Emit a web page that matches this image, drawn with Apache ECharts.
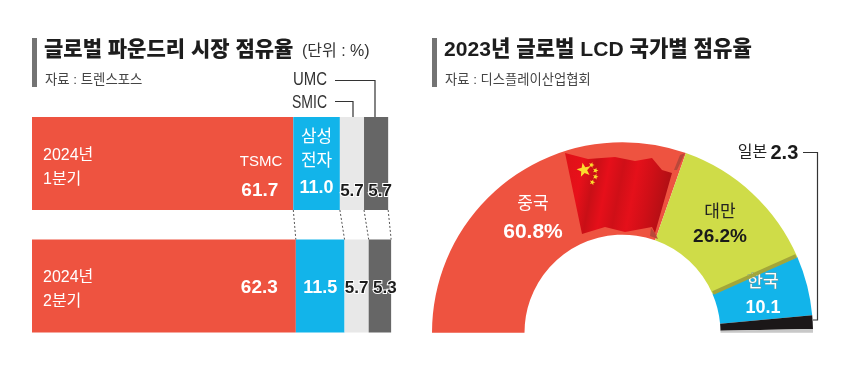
<!DOCTYPE html>
<html><head><meta charset="utf-8">
<style>html,body{margin:0;padding:0;background:#fff}#c{width:860px;height:368px}</style>
<script src="https://cdn.jsdelivr.net/npm/echarts@6/dist/echarts.min.js"></script>
</head><body><div id="c"></div>
<script>
const quarters = ['2024년\n1분기', '2024년\n2분기'];
const tsmc = [61.7, 62.3];
const samsung = [11.0, 11.5];
const smic = [5.7, 5.7];
const umc = [5.7, 5.3];
const lcdNames = ['중국', '대만', '한국', '일본', '기타'];
const lcdValues = [60.8, 26.2, 10.1, 2.3, 0.6];

const FONT = '"Liberation Sans","Noto Sans CJK KR",sans-serif';
const RED = '#ee5340', BLUE = '#12b4ea', LIGHT = '#e8e8e8', DARK = '#666666', LIME = '#cfdc48';
const BAR_H = 93;

const fmt = v => v.toFixed(1);
const boundaries = [0, 1].map(i => {
  const a = tsmc[i], b = a + samsung[i], c = b + smic[i], d = c + umc[i];
  return [a, b, c, d];
});
const connectors = [0, 1, 2, 3].map(k => [boundaries[0][k], boundaries[1][k]]);

const valueRich = {
  n: {fontFamily: FONT, fontSize: 17, color: '#fff', lineHeight: 24, align: 'center'},
  tn: {fontFamily: FONT, fontSize: 15, color: '#fff', lineHeight: 29, align: 'right'},
  v: {fontFamily: FONT, fontSize: 18, fontWeight: 700, color: '#fff', lineHeight: 30, align: 'center'},
  tv: {fontFamily: FONT, fontSize: 19, fontWeight: 700, color: '#fff', lineHeight: 30, align: 'right', padding: [0, 4, 0, 0]}
};

function darkLabel(offsetX, offsetY) {
  return {
    show: true, position: 'inside', offset: [offsetX, offsetY],
    fontFamily: FONT, fontSize: 17, fontWeight: 700, color: '#1c1c1c',
    textBorderColor: '#fff', textBorderWidth: 2, formatter: p => fmt(p.value)
  };
}

function star(cx, cy, r, rot) {
  const pts = [];
  for (let i = 0; i < 10; i++) {
    const rad = i % 2 ? r * 0.42 : r;
    const a = rot + i * Math.PI / 5 - Math.PI / 2;
    pts.push([cx + rad * Math.cos(a), cy + rad * Math.sin(a)]);
  }
  return {type: 'polygon', z: 102, shape: {points: pts}, style: {fill: '#fbdc2e'}, silent: true};
}
function txt(x, y, text, size, weight, color, extra) {
  return Object.assign({type: 'text', x, y, z: 110, silent: true,
    style: {text, fontFamily: FONT, fontSize: size, fontWeight: weight, fill: color,
      verticalAlign: 'middle', align: 'left'}}, extra || {});
}
function rule(points, color, width) {
  return {type: 'polyline', z: 105, silent: true, shape: {points},
    style: {stroke: color, lineWidth: width, fill: null}};
}

const flagGradient = {type: 'linear', x: 0, y: 0, x2: 1, y2: 0.25, colorStops: [
  {offset: 0, color: '#dd1217'}, {offset: .18, color: '#e8101a'}, {offset: .3, color: '#c90f16'},
  {offset: .42, color: '#e60f1a'}, {offset: .55, color: '#cf0f17'}, {offset: .68, color: '#e5101a'},
  {offset: .82, color: '#d00f17'}, {offset: 1, color: '#b00f14'}]};

const graphic = [
  {type: 'rect', z: 105, silent: true, shape: {x: 32, y: 38, width: 5, height: 49}, style: {fill: '#737373'}},
  {type: 'rect', z: 105, silent: true, shape: {x: 432, y: 38, width: 5, height: 49}, style: {fill: '#737373'}},
  txt(44, 50, '글로벌 파운드리 시장 점유율', 21, 900, '#1d1d1d'),
  txt(302, 52, '(단위 : %)', 16, 400, '#333'),
  txt(45, 80, '자료 : 트렌스포스', 13.4, 400, '#444'),
  txt(444, 50, '2023년 글로벌 LCD 국가별 점유율', 21.1, 900, '#1d1d1d'),
  txt(445, 80, '자료 : 디스플레이산업협회', 13.3, 400, '#444'),
  txt(293, 80, 'UMC', 18, 400, '#333', {scaleX: 0.83}),
  txt(292, 103, 'SMIC', 18, 400, '#333', {scaleX: 0.78}),
  rule([[335, 80.5], [375, 80.5], [375, 117]], '#333', 1.2),
  rule([[335, 101.5], [353, 101.5], [353, 117]], '#333', 1.2),
  rule([[803, 152.5], [817.5, 152.5], [817.5, 320], [813, 320]], '#333', 1.2),
  {type: 'polygon', z: 100, silent: true,
    shape: {points: [[565,153],[588,159],[615,157],[635,161],[652,158],[662,170],[672,173],[655,233],[652,227],[625,232],[605,227],[582,234]]},
    style: {fill: flagGradient}},
  {type: 'polygon', z: 99, silent: true, shape: {points: [[685,153],[680,155],[674,170],[677,170]]},
    style: {fill: '#b9483a'}},
  {type: 'polygon', z: 99, silent: true, shape: {points: [[655,233],[651,228],[650,236],[658,239]]},
    style: {fill: '#b9483a'}},
  {type: 'polyline', z: 1, silent: true, shape: {points: [[796,256],[713,293]]},
    style: {stroke: '#a2a63a', lineWidth: 4, fill: null}},
  star(584, 170, 7.5, -0.2), star(591.5, 165, 3, 0.3), star(595.5, 170.5, 3, 0.3),
  star(595.5, 176.7, 3, 0.3), star(592.3, 182.3, 3, 0.3)
];

const pieLabelPos = [[533, 218], [720, 224.5], [763, 296], [768, 153], [0, 0]];

const option = {
  animation: false,
  backgroundColor: '#fff',
  graphic: {elements: graphic},
  grid: {left: 32, top: 102.25, width: 423.5, height: 245, containLabel: false},
  xAxis: {type: 'value', min: 0, max: 100, show: false},
  yAxis: {
    type: 'category', data: quarters, inverse: true, z: 10,
    axisLine: {show: false}, axisTick: {show: false}, splitLine: {show: false},
    axisLabel: {inside: true, margin: 11, align: 'left',
      formatter: v => '{s| }\n' + v.split('\n').map(t => `{a|${t}}`).join('\n'),
      rich: {
        s: {fontSize: 4, lineHeight: 8},
        a: {color: '#fff', fontFamily: FONT, fontSize: 16, lineHeight: 24}
      }}
  },
  series: [
    {type: 'bar', stack: 's', silent: true, barWidth: BAR_H, itemStyle: {color: RED},
      data: tsmc.map((v, i) => ({value: v, label: {
        show: true, position: 'insideRight', distance: i === 0 ? 11 : 14, offset: [0, i === 0 ? 13 : 2],
        rich: valueRich,
        formatter: i === 0 ? `{tn|TSMC}\n{tv|${fmt(v)}}` : `{tv|${fmt(v)}}`
      }}))},
    {type: 'bar', stack: 's', silent: true, barWidth: BAR_H, itemStyle: {color: BLUE},
      data: samsung.map((v, i) => ({value: v, label: {
        show: true, position: 'inside', offset: [0, i === 0 ? 1 : 2],
        rich: valueRich,
        formatter: i === 0 ? `{n|삼성}\n{n|전자}\n{v|${fmt(v)}}` : `{v|${fmt(v)}}`
      }}))},
    {type: 'bar', stack: 's', silent: true, barWidth: BAR_H, itemStyle: {color: LIGHT},
      data: smic.map((v, i) => ({value: v, label: darkLabel(0, i === 0 ? 27.5 : 2)}))},
    {type: 'bar', stack: 's', silent: true, barWidth: BAR_H, itemStyle: {color: DARK},
      data: umc.map((v, i) => ({value: v, label: darkLabel(i === 0 ? 4 : 5, i === 0 ? 27.5 : 2)}))},
    {type: 'custom', silent: true, z: 5, data: connectors, encode: {x: [0, 1]},
      renderItem: (params, api) => {
        const a = api.coord([api.value(0), 0]);
        const b = api.coord([api.value(1), 1]);
        return {type: 'line',
          shape: {x1: a[0], y1: a[1] + BAR_H / 2, x2: b[0], y2: b[1] - BAR_H / 2},
          style: {stroke: '#555', lineWidth: 1, lineDash: [2, 2], fill: null}};
      }},
    {type: 'pie', silent: true, center: [622.5, 332.7], radius: [98, 190.5],
      startAngle: 180, endAngle: 0, clockwise: true, z: 0,
      labelLine: {show: false},
      labelLayout: p => {
        const pos = pieLabelPos[p.dataIndex];
        return {x: pos[0], y: pos[1], align: 'center', verticalAlign: 'middle'};
      },
      label: {
        position: 'inside', fontFamily: FONT,
        rich: {
          w: {fontFamily: FONT, fontSize: 17, color: '#fff', lineHeight: 28, align: 'center'},
          W: {fontFamily: FONT, fontSize: 21, fontWeight: 700, color: '#fff', lineHeight: 28, align: 'center'},
          k: {fontFamily: FONT, fontSize: 17, color: '#fff', lineHeight: 24, align: 'center', textBorderColor: '#6f9ea0', textBorderWidth: 1},
          K: {fontFamily: FONT, fontSize: 18, fontWeight: 700, color: '#fff', lineHeight: 28, align: 'center'},
          b: {fontFamily: FONT, fontSize: 17, color: '#222', lineHeight: 25, align: 'center'},
          B: {fontFamily: FONT, fontSize: 19, fontWeight: 700, color: '#1a1a1a', lineHeight: 25, align: 'center'},
          j: {fontFamily: FONT, fontSize: 16, color: '#222'},
          J: {fontFamily: FONT, fontSize: 20, fontWeight: 700, color: '#1a1a1a'}
        }
      },
      data: lcdNames.map((name, i) => {
        const v = lcdValues[i];
        const fm = [`{w|${name}}\n{W|${v}%}`, `{b|${name}}\n{B|${v}%}`, `{k|${name}}\n{K|${v}}`, `{j|${name}} {J|${v}}`, ''][i];
        return {name, value: v,
          itemStyle: {color: [RED, LIME, BLUE, '#1b1718', '#c8c8c8'][i]},
          label: {show: i < 4, formatter: fm}};
      })}
  ]
};
echarts.init(document.getElementById('c'), null, {renderer: 'canvas'}).setOption(option);
</script></body></html>
